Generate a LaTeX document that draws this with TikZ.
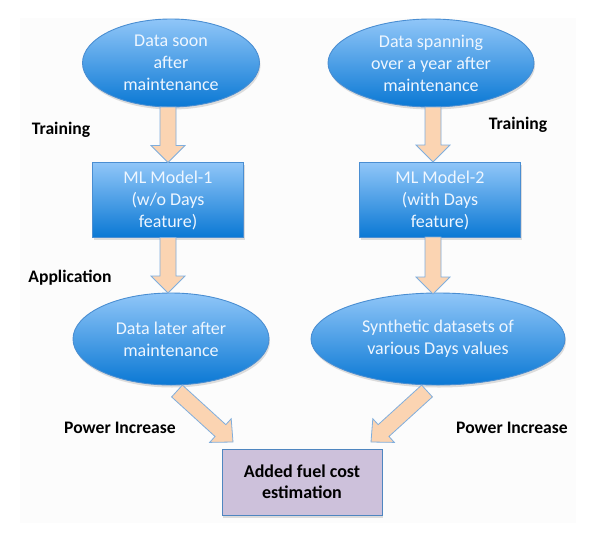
\documentclass[tikz,border=0pt]{standalone}
\usepackage{fontspec}
\setmainfont{Carlito}
\usetikzlibrary{shapes.geometric,calc,shadows}
\definecolor{bluetop}{HTML}{90C6F8}
\definecolor{bluebot}{HTML}{0A78D4}
\definecolor{blueline}{HTML}{4A8ED2}
\definecolor{shapetext}{HTML}{EEF6FF}
\definecolor{peach}{HTML}{FBD4B2}
\definecolor{arrline}{HTML}{80AEDD}
\definecolor{lav}{HTML}{CDC1DB}
\definecolor{lavline}{HTML}{4F86C0}
\definecolor{bgpanel}{HTML}{FCFCFC}
\newcommand{\blkarrow}[5]{%
  \coordinate (bkH) at ($(#2)!#5!(#1)$);
  \draw[barrow] ($(#1)!#3!90:(#2)$) -- ($(bkH)!#3!90:(#2)$) -- ($(bkH)!#4!90:(#2)$)
    -- (#2) -- ($(bkH)!#4!-90:(#2)$) -- ($(bkH)!#3!-90:(#2)$) -- ($(#1)!#3!-90:(#2)$) -- cycle;}
\tikzset{
  every node/.style={inner sep=0pt, outer sep=0pt},
  shapefill/.style={top color=bluetop, bottom color=bluebot, draw=blueline, line width=0.9pt,
    text=shapetext, align=center, font=\fontsize{18}{22}\selectfont,
    drop shadow={shadow xshift=1pt, shadow yshift=-2.5pt, opacity=0.25}},
  dataell/.style={shapefill, ellipse},
  modelbox/.style={shapefill, rectangle},
  resultbox/.style={rectangle, fill=lav, draw=lavline, line width=1pt, align=center,
    font=\bfseries\fontsize{18}{21}\selectfont, text=black,
    drop shadow={shadow xshift=1pt, shadow yshift=-2.5pt, opacity=0.25}},
  barrow/.style={fill=peach, draw=arrline, line width=0.8pt, line join=miter},
  steplabel/.style={font=\bfseries\fontsize{17.6}{20}\selectfont, text=black}
}
\begin{document}
\begin{tikzpicture}[x=1pt, y=-1pt]
\useasboundingbox (0,0) rectangle (602,536);
\fill[white] (0,0) rectangle (602,536);
\fill[bgpanel] (20,18) rectangle (576,523);

\node[dataell, minimum width=177pt, minimum height=88pt] (e1) at (171,63)
  {Data soon\\after\\maintenance};
\node[dataell, minimum width=206pt, minimum height=88pt] (e2) at (431,63)
  {Data spanning\\over a year after\\maintenance};
\node[modelbox, minimum width=151pt, minimum height=75pt] (b1) at (168,200)
  {ML Model-1\\(w/o Days\\feature)};
\node[modelbox, minimum width=161pt, minimum height=75pt] (b2) at (440,200)
  {ML Model-2\\(with Days\\feature)};
\node[dataell, minimum width=196pt, minimum height=92pt] (e3) at (171,339)
  {Data later after\\maintenance};
\node[dataell, minimum width=254pt, minimum height=92pt] (e4) at (438,339)
  {Synthetic datasets of\\various Days values};
\node[resultbox, minimum width=160pt, minimum height=66pt] (fb) at (302,482)
  {Added fuel cost\\estimation};

\node[steplabel] (t1) at (61,130) {Training};
\node[steplabel] (t2) at (518,125) {Training};
\node[steplabel] (ap) at (70,278) {Application};
\node[steplabel] (p1) at (120,428) {Power Increase};
\node[steplabel] (p2) at (512,428) {Power Increase};

\coordinate (a1s) at (b1.north |- e1.south);
\coordinate (a2s) at (433,107);
\coordinate (a2e) at (433,162);
\coordinate (a3e) at (b1.south |- e3.north);
\coordinate (a4s) at (433,237);
\coordinate (a4e) at (433,294);
\coordinate (d1s) at (177,391);
\coordinate (d1e) at (233,442);
\coordinate (d2s) at (427,391);
\coordinate (d2e) at (371,442);

\blkarrow{a1s}{b1.north}{8pt}{17pt}{17pt}
\blkarrow{a2s}{a2e}{8pt}{17pt}{17pt}
\blkarrow{b1.south}{a3e}{8pt}{17pt}{17pt}
\blkarrow{a4s}{a4e}{8pt}{17pt}{17pt}
\blkarrow{d1s}{d1e}{8pt}{16pt}{17pt}
\blkarrow{d2s}{d2e}{8pt}{16pt}{17pt}
\end{tikzpicture}
\end{document}
